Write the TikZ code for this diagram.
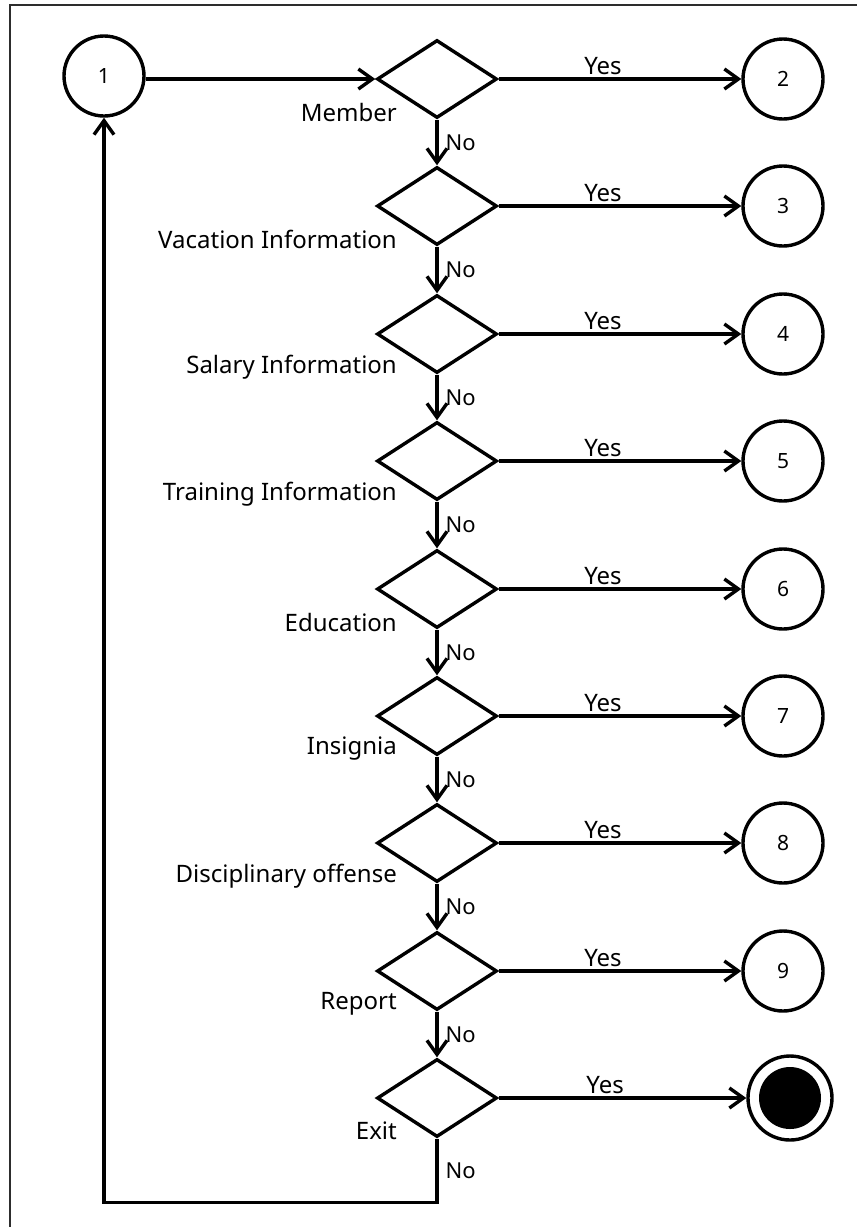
\documentclass[tikz,border=0pt]{standalone}
\usepackage{fontspec}
\setmainfont{Noto Sans}
\usepackage{tikz}
\usepackage{xcolor}
\usetikzlibrary{calc,shapes.geometric,positioning,arrows.meta}
\definecolor{ink}{RGB}{0,0,0}
\definecolor{framegray}{RGB}{45,45,45}
\newcommand{\lblfont}{\fontsize{24}{28}\selectfont}
\newcommand{\numfont}{\fontsize{21}{24}\selectfont}
\newcommand{\nofont}{\fontsize{22}{26}\selectfont}

\tikzset{
  decision/.style={diamond, draw=ink, line width=3.4pt, minimum width=120pt, minimum height=78pt, inner sep=0pt},
  conn/.style={circle, draw=ink, line width=3.4pt, minimum size=80pt, inner sep=0pt, font=\numfont},
  endstate/.style={circle, draw=ink, line width=3.4pt, minimum size=84pt, inner sep=0pt,
    path picture={\fill[ink] (path picture bounding box.center) circle (31pt);}},
  flow/.style={draw=ink, line width=3.4pt, -{Straight Barb[length=14pt,width=20pt]}},
  dlabel/.style={anchor=east, font=\lblfont, inner sep=0pt},
  yeslbl/.style={above, font=\lblfont, pos=0.43, inner sep=3pt},
  nolbl/.style={right, font=\nofont, midway, inner sep=7pt},
}

\begin{document}
\begin{tikzpicture}[x=1pt,y=-1pt]
    \useasboundingbox (0,0) rectangle (857,1227);
    \draw[framegray, line width=2pt] (10,1227) -- (10,5) -- (857,5);

    \node[conn] (c1) at (104,76) {1};
    \foreach \i/\ypos in {1/79,2/206,3/334,4/461,5/589,6/716,7/843,8/971,9/1098}
        \node[decision] (d\i) at (437,\ypos) {};
    \foreach \i/\txt in {1/Member,2/Vacation Information,3/Salary Information,
        4/Training Information,5/Education,6/Insignia,7/Disciplinary offense,8/Report,9/Exit}
        \node[dlabel] (l\i) at ([xshift=-40pt,yshift=-33pt]d\i.center) {\txt};
    \foreach \i/\ypos in {2/79,3/206,4/334,5/461,6/589,7/716,8/843,9/971}
        \node[conn] (c\i) at (783,\ypos) {\i};
    \node[endstate] (cend) at (790,1098) {};

    \draw[flow] (c1.east |- d1) -- (d1.west);
    \foreach \i in {1,...,8}{
        \pgfmathtruncatemacro{\j}{\i+1}
        \draw[flow] (d\i) -- node[yeslbl] {Yes} (c\j);
        \draw[flow] (d\i) -- node[nolbl] {No} (d\j);
    }
    \draw[flow] (d9) -- node[yeslbl] {Yes} (cend);
    \draw[flow] (d9.south) -- node[nolbl] {No} ++(0,64) -| (c1.south);
\end{tikzpicture}
\end{document}
